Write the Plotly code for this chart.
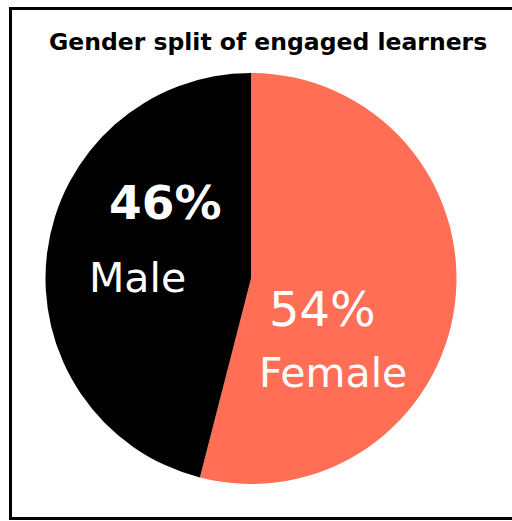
import plotly.graph_objects as go

W, H = 512, 521

# Data
categories = ["Female", "Male"]
shares = [54, 46]
colors = ["#FF6E55", "#000000"]
title_text = "Gender split of engaged learners"

# Label positions (pixels) and fonts, in same order as categories
pct_pos = [(322, 309), (165, 203)]
name_pos = [(333, 373), (137, 278)]
pct_weight = ["normal", "bold"]
pct_size = [48, 47]

FONT = "DejaVu Sans"

def px(x):
    return x / W

def py(y):
    return 1 - y / H

fig = go.Figure()
fig.add_trace(go.Pie(
    labels=categories,
    values=shares,
    marker=dict(colors=colors, line=dict(width=0)),
    sort=False,
    direction="clockwise",
    rotation=0,
    textinfo="none",
    hoverinfo="label+percent",
    showlegend=False,
    domain=dict(x=[px(45.5), px(456.5)], y=[py(484), py(73)]),
))

annotations = []
for cat, val, (xp, yp), (xn, yn), wt, sz in zip(categories, shares, pct_pos, name_pos, pct_weight, pct_size):
    annotations.append(dict(
        x=px(xp), y=py(yp), xref="paper", yref="paper",
        text=f"{val}%", showarrow=False, xanchor="center", yanchor="middle",
        font=dict(family=FONT, size=sz, color="white", weight=wt),
    ))
    annotations.append(dict(
        x=px(xn), y=py(yn), xref="paper", yref="paper",
        text=cat, showarrow=False, xanchor="center", yanchor="middle",
        font=dict(family=FONT, size=41, color="white"),
    ))

annotations.append(dict(
    x=px(268), y=py(42), xref="paper", yref="paper",
    text=f"<b>{title_text}</b>", showarrow=False, xanchor="center", yanchor="middle",
    font=dict(family=FONT, size=23.5, color="black"),
))

fig.update_layout(
    width=W, height=H,
    margin=dict(l=0, r=0, t=0, b=0),
    paper_bgcolor="white",
    plot_bgcolor="white",
    annotations=annotations,
    shapes=[dict(type="rect", xref="paper", yref="paper",
                 x0=px(10.5), x1=px(540), y0=py(518.5), y1=py(8.5),
                 line=dict(color="black", width=3), fillcolor="rgba(0,0,0,0)")],
)

fig.write_html("out.html")
